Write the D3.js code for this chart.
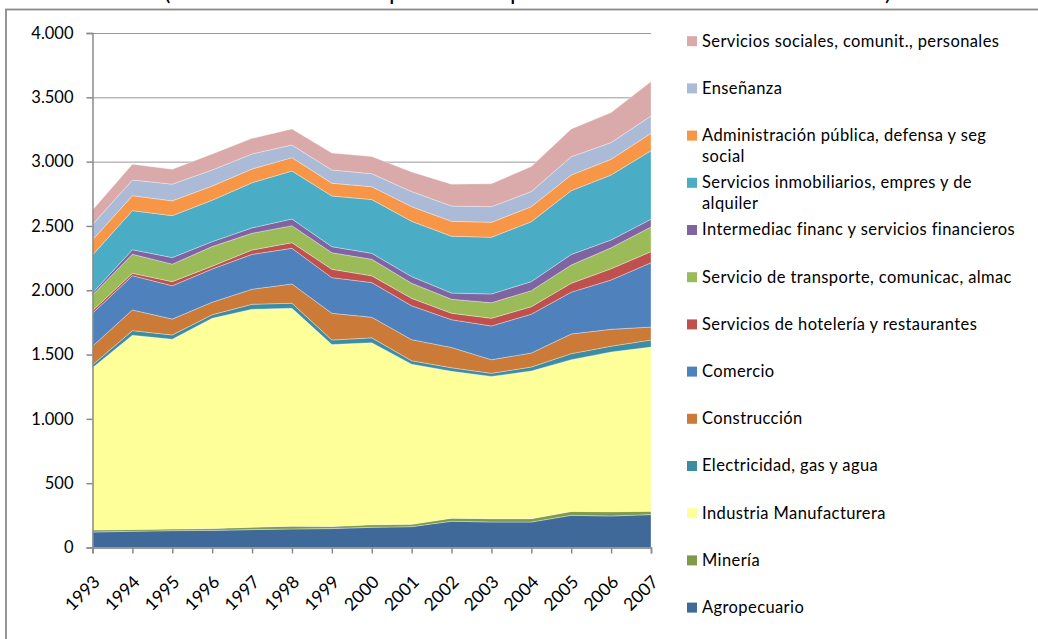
<!DOCTYPE html>
<html>
<head>
<meta charset="utf-8">
<script src="https://cdn.jsdelivr.net/npm/d3@7"></script>
<style>
  html, body { margin: 0; padding: 0; background: #fff; }
  svg { display: block; }
  text { font-family: Lato, "Open Sans", sans-serif; fill: #000; }
</style>
</head>
<body>
<svg id="chart" width="1038" height="639"></svg>
<script>
// ---- data ----
const years = [1993,1994,1995,1996,1997,1998,1999,2000,2001,2002,2003,2004,2005,2006,2007];
const yTicks = [0,500,1000,1500,2000,2500,3000,3500,4000];

const agropecuario   = [120,126,131,133,139,144,147,157,162,204,198,198,250,245,256];
const mineria        = [16,14,13,15,19,22,17,20,18,24,26,26,30,33,25];
const industria      = [1261,1510,1475,1634,1694,1694,1414,1415,1245,1142,1106,1148,1180,1242,1277];
const electricidad   = [23,36,33,28,39,39,35,38,27,27,24,31,47,45,55];
const construccion   = [145,161,124,97,117,150,208,160,164,158,106,109,153,131,101];
const comercio       = [256,266,259,258,271,277,277,270,263,216,262,302,325,384,500];
const hoteleria      = [20,19,32,22,34,44,65,52,58,50,60,58,69,87,86];
const transporte     = [122,148,136,153,130,132,129,129,117,109,121,125,142,163,192];
const intermediacion = [16,35,51,38,42,52,47,46,52,48,68,70,82,61,60];
const inmobiliarios  = [295,304,326,322,351,373,394,418,430,442,441,466,496,505,533];
const administracion = [117,116,115,110,107,104,99,100,114,116,116,117,122,122,135];
const ensenanza      = [120,122,130,125,117,98,103,101,117,119,122,117,142,130,135];
const sociales       = [113,123,115,125,121,125,132,134,153,170,178,195,216,233,267];

// stacking order: bottom to top
const seriesNames = [
  "Agropecuario",
  "Minería",
  "Industria Manufacturera",
  "Electricidad, gas y agua",
  "Construcción",
  "Comercio",
  "Servicios de hotelería y restaurantes",
  "Servicio de transporte, comunicac, almac",
  "Intermediac financ y servicios financieros",
  "Servicios inmobiliarios, empres y de alquiler",
  "Administración pública, defensa y seg social",
  "Enseñanza",
  "Servicios sociales, comunit., personales"
];
const seriesValues = [agropecuario, mineria, industria, electricidad, construccion, comercio,
  hoteleria, transporte, intermediacion, inmobiliarios, administracion, ensenanza, sociales];
const seriesColors = ["#3F6998","#7F9A48","#FFFF99","#3A8DA3","#CC7A37","#4F81BD",
  "#C0504D","#9BBB59","#8064A2","#4BACC6","#F79646","#AABAD7","#D9AAA9"];
const titleParts = ["(Millones de ", "pesos a ", "precios de 1993", ")"];

// ---- build table ----
const table = years.map((y, i) => {
  const row = { year: y };
  seriesNames.forEach((n, k) => row[n] = seriesValues[k][i]);
  return row;
});
const stack = d3.stack().keys(seriesNames)(table);

const svg = d3.select("#chart");
const plot = { left: 92.5, right: 651, top: 33, bottom: 547.5 };

const x = d3.scalePoint().domain(years).range([plot.left, plot.right]).padding(0);
const y = d3.scaleLinear().domain([0, 4000]).range([plot.bottom, plot.top]);

// outer chart border (extends beyond the visible window)
svg.append("rect")
  .attr("x", 6).attr("y", 9.5)
  .attr("width", 1100).attr("height", 700)
  .attr("fill", "none").attr("stroke", "#8a8a8a").attr("stroke-width", 1.8);

// title: only its lowest part falls inside the window, as in the reference
const title = svg.append("text")
  .attr("y", 0)
  .style("font-size", "24px");
const titleX = [164, 389, 510, 885];
titleParts.forEach((t, i) => title.append("tspan").attr("x", titleX[i]).text(t));

// gridlines
svg.append("g")
  .attr("transform", `translate(${plot.left},0)`)
  .call(d3.axisLeft(y).tickValues(yTicks).tickSize(-(plot.right - plot.left)).tickFormat(""))
  .call(g => g.select(".domain").remove())
  .call(g => g.selectAll("line").attr("stroke", "#9a9a9a").attr("stroke-width", 1));

// areas
const area = d3.area()
  .x(d => x(d.data.year))
  .y0(d => y(d[0]))
  .y1(d => y(d[1]));

svg.append("g").selectAll("path")
  .data(stack)
  .join("path")
  .attr("d", area)
  .attr("fill", (d, i) => seriesColors[i])
  .attr("stroke", "#ffffff")
  .attr("stroke-opacity", 0.55)
  .attr("stroke-width", 0.6);

// y axis
const fmt = d3.formatLocale({ decimal: ",", thousands: ".", grouping: [3], currency: ["", ""] }).format(",d");
svg.append("g")
  .attr("transform", `translate(${plot.left},0)`)
  .call(d3.axisLeft(y).tickValues(yTicks).tickSize(6).tickPadding(13).tickFormat(fmt))
  .call(g => g.select(".domain").attr("stroke", "#8a8a8a").attr("stroke-width", 1.5))
  .call(g => g.selectAll("line").attr("stroke", "#8a8a8a").attr("stroke-width", 1.5))
  .call(g => g.selectAll("text").style("font-size", "16.5px").style("font-family", "Lato, sans-serif").attr("fill", "#000"));

// x axis
const xa = svg.append("g")
  .attr("transform", `translate(0,${plot.bottom})`)
  .call(d3.axisBottom(x).tickSize(6).tickFormat(d3.format("d")))
  .call(g => g.select(".domain").attr("stroke", "#8a8a8a").attr("stroke-width", 1.5))
  .call(g => g.selectAll("line").attr("stroke", "#8a8a8a").attr("stroke-width", 1.5));
xa.selectAll("text")
  .style("font-size", "17.5px").style("font-family", "Lato, sans-serif").attr("fill", "#000")
  .attr("text-anchor", "end")
  .attr("dy", null)
  .attr("y", null)
  .attr("transform", "translate(8,35.5) rotate(-45)");

// legend (top to bottom = reverse stacking order)
const legendOrder = d3.range(seriesNames.length).reverse();
const lg = svg.append("g");
const maxW = 318;
legendOrder.forEach((k, i) => {
  const cy = 40.7 + 47.2 * i;
  lg.append("rect")
    .attr("x", 687).attr("y", cy - 4.5)
    .attr("width", 10).attr("height", 10)
    .attr("fill", seriesColors[k]);
  const t = lg.append("text")
    .attr("x", 702).attr("y", cy)
    .attr("dy", "0.36em")
    .style("font-size", "16.5px")
    .style("letter-spacing", "0.4px");
  // word wrap
  const words = seriesNames[k].split(" ");
  let line = [];
  let ts = t.append("tspan").attr("x", 702);
  words.forEach(w => {
    line.push(w);
    ts.text(line.join(" "));
    if (ts.node().getComputedTextLength() > maxW && line.length > 1) {
      line.pop();
      ts.text(line.join(" "));
      line = [w];
      ts = t.append("tspan").attr("x", 702).attr("dy", 21).text(w);
    }
  });
});
</script>
</body>
</html>
